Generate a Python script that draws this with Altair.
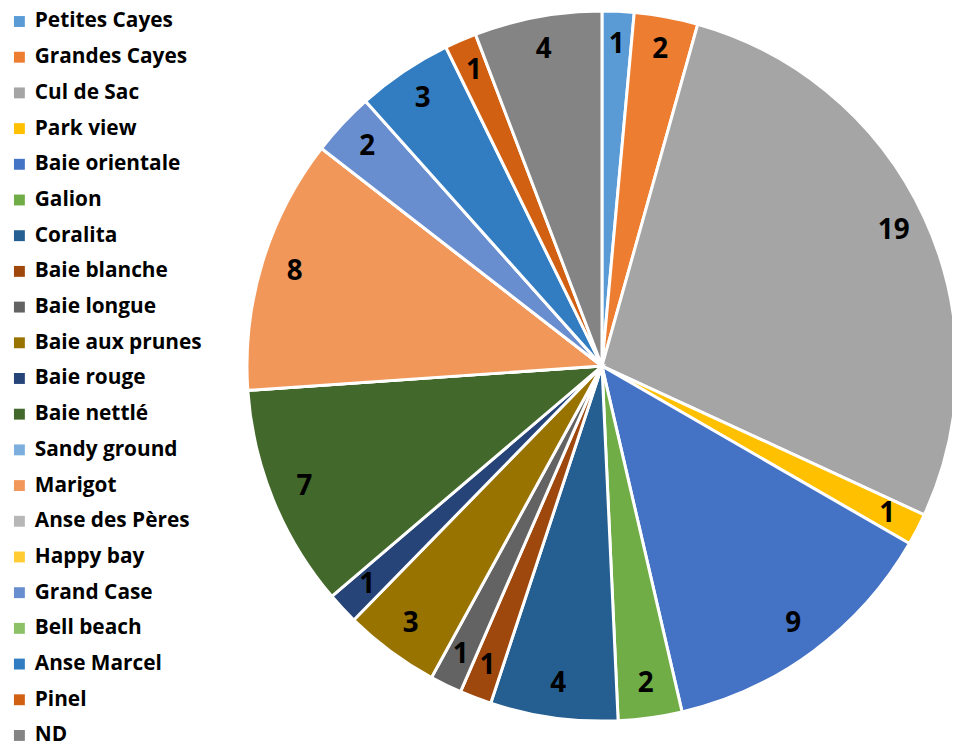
import altair as alt
import pandas as pd

categories = ["Petites Cayes", "Grandes Cayes", "Cul de Sac", "Park view", "Baie orientale",
              "Galion", "Coralita", "Baie blanche", "Baie longue", "Baie aux prunes",
              "Baie rouge", "Baie nettlé", "Sandy ground", "Marigot", "Anse des Pères",
              "Happy bay", "Grand Case", "Bell beach", "Anse Marcel", "Pinel", "ND"]
values = [1, 2, 19, 1, 9, 2, 4, 1, 1, 3, 1, 7, 0, 8, 0, 0, 2, 0, 3, 1, 4]
colors = ["#5B9BD5", "#ED7D31", "#A5A5A5", "#FFC000", "#4472C4", "#70AD47",
          "#255E91", "#9E480E", "#636363", "#997300", "#264478", "#43682B",
          "#7CAFDD", "#F1975A", "#B7B7B7", "#FFCD33", "#698ED0", "#8CC168",
          "#327DC2", "#D26012", "#848484"]

df = pd.DataFrame({"cat": categories, "value": values, "idx": list(range(len(categories)))})

cx, cy, R = 599, 358, 358

base = alt.Chart(df).encode(
    theta=alt.Theta("value:Q", stack=True),
    order=alt.Order("idx:Q", sort="ascending"),
)

arcs = base.mark_arc(outerRadius=R, stroke="white", strokeWidth=3).encode(
    x=alt.value(cx), y=alt.value(cy),
    color=alt.Color("cat:N", scale=alt.Scale(domain=categories, range=colors),
                    legend=alt.Legend(title=None, orient="none", legendX=1, legendY=0,
                                      symbolType="square", symbolSize=121,
                                      symbolStrokeWidth=0,
                                      labelFont="Open Sans", labelFontSize=21,
                                      labelFontWeight="bold", labelColor="black",
                                      labelOffset=5, rowPadding=14, padding=0,
                                      labelLimit=300)),
)

labels = base.mark_text(radius=324, font="Open Sans", fontSize=28, fontWeight="bold",
                        color="black").encode(
    x=alt.value(cx), y=alt.value(cy),
    text=alt.Text("value:Q"),
).transform_filter("datum.value > 0")

chart = alt.layer(arcs, labels).properties(
    width=952, height=736, autosize="none", padding=0
).configure_view(stroke=None)

chart.save("out.html", embed_options={"renderer": "svg", "actions": False})
